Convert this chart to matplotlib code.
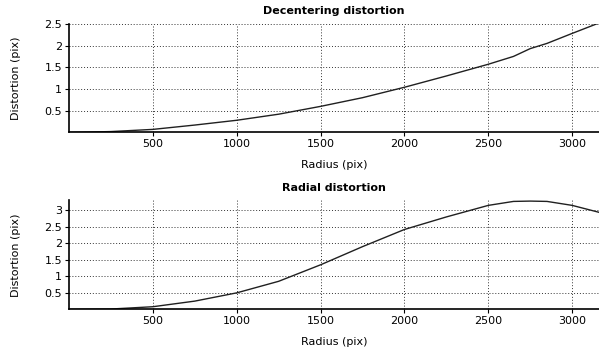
import numpy as np
from matplotlib import pyplot as plt

# radius samples (pix)
radius = [0, 250, 500, 750, 1000, 1250, 1500, 1750, 2000, 2250, 2500, 2650, 2750, 2850, 3000, 3160]
decentering = [0.0, 0.02, 0.07, 0.17, 0.28, 0.42, 0.6, 0.8, 1.04, 1.3, 1.57, 1.75, 1.93, 2.05, 2.28, 2.52]
radial = [0.0, 0.01, 0.08, 0.25, 0.5, 0.85, 1.35, 1.9, 2.42, 2.8, 3.15, 3.27, 3.28, 3.27, 3.15, 2.94]

x_ticks = [500, 1000, 1500, 2000, 2500, 3000]
dec_yticks = [0.5, 1, 1.5, 2, 2.5]
rad_yticks = [0.5, 1, 1.5, 2, 2.5, 3]


def style_axes(ax, title, values, yticks, ymax):
    ax.plot(radius, values, color='#202020', lw=1)
    ax.set_xlim(0, 3160)
    ax.set_ylim(0, ymax)
    ax.set_xticks(x_ticks)
    ax.set_yticks(yticks)
    ax.set_yticklabels([f'{t:g}' for t in yticks])
    ax.grid(True, color='#333333', linestyle=(0, (1, 2)), linewidth=0.7)
    ax.spines['top'].set_visible(False)
    ax.spines['right'].set_visible(False)
    ax.spines['left'].set_linewidth(1.2)
    ax.spines['bottom'].set_linewidth(1.2)
    ax.tick_params(direction='out', length=3, labelsize=8, pad=2)
    ax.set_title(title, fontsize=8, fontweight='bold', pad=7)
    ax.set_xlabel('Radius (pix)', fontsize=8, labelpad=8)
    ax.set_ylabel('Distortion (pix)', fontsize=8, labelpad=17)


fig = plt.figure(figsize=(5.99, 3.56), dpi=100)
ax1 = fig.add_axes([0.1152, 0.628, 0.8848, 0.305])
ax2 = fig.add_axes([0.1152, 0.131, 0.8848, 0.306])
style_axes(ax1, 'Decentering distortion', decentering, dec_yticks, 2.5)
style_axes(ax2, 'Radial distortion', radial, rad_yticks, 3.3)
fig.savefig('out.png', dpi=100)
